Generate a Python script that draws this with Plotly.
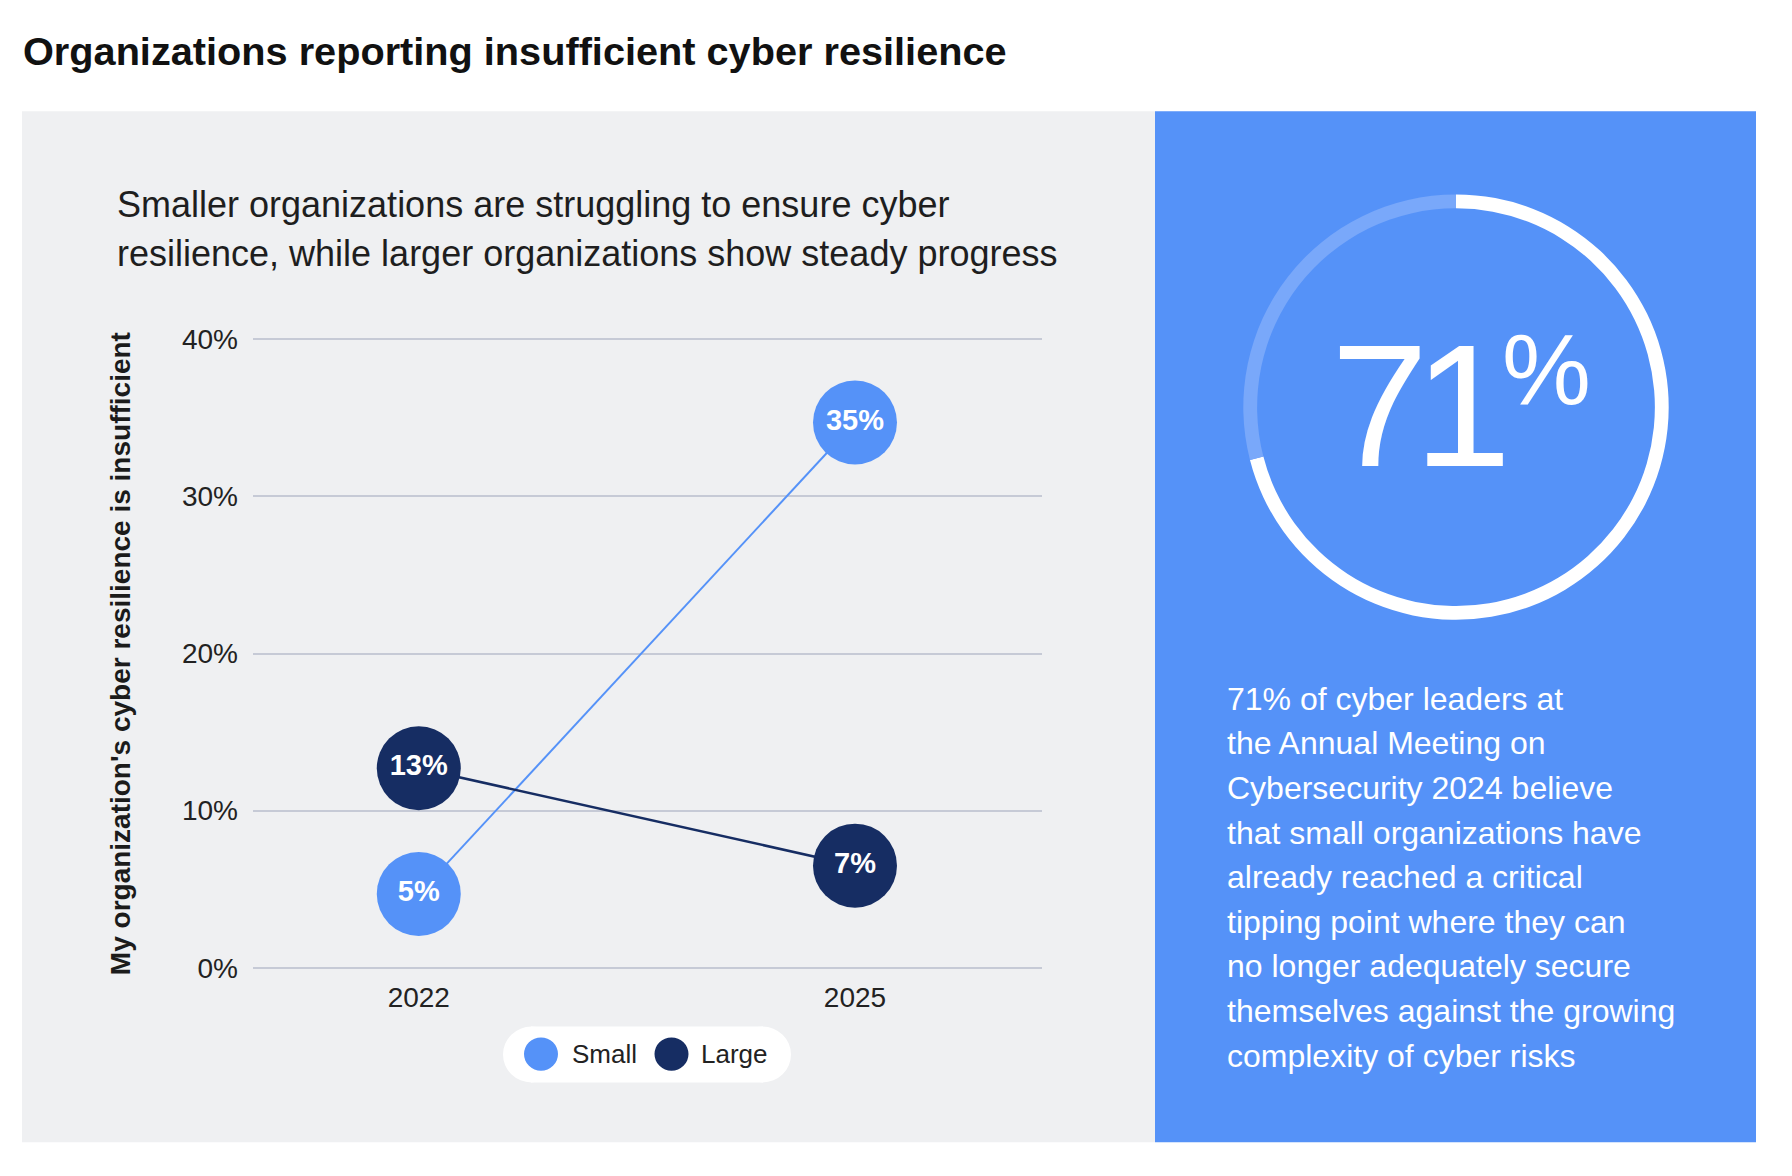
import plotly.graph_objects as go

# the page body keeps an 8px margin, so the figure is drawn 16px smaller
# and every position below is given in window pixels
W, H = 1792, 1176
OFF = 8
FW, FH = W - 2 * OFF, H - 2 * OFF
FONT = "Liberation Sans, Arial, Helvetica, sans-serif"

# data
years = ["2022", "2025"]
small = [4.7, 34.7]
large = [12.7, 6.5]
y_ticks = [0, 10, 20, 30, 40]
y_ticktext = ["0%", "10%", "20%", "30%", "40%"]
share_believe = [71, 29]

title = "Organizations reporting insufficient cyber resilience"
subtitle_lines = ["Smaller organizations are struggling to ensure cyber",
                  "resilience, while larger organizations show steady progress"]
y_title = "My organization's cyber resilience is insufficient"
note_lines = ["71% of cyber leaders at",
              "the Annual Meeting on",
              "Cybersecurity 2024 believe",
              "that small organizations have",
              "already reached a critical",
              "tipping point where they can",
              "no longer adequately secure",
              "themselves against the growing",
              "complexity of cyber risks"]

SMALL_C = "#5592F8"
LARGE_C = "#162D63"
PANEL_BLUE = "#5592F8"
GREY = "#EFF0F2"


def fx(p):
    return (p - OFF) / FW


def fy(p):
    return 1 - (p - OFF) / FH


fig = go.Figure()

fig.add_trace(go.Scatter(
    x=years, y=small, name="Small", mode="lines+markers+text",
    line=dict(color=SMALL_C, width=2),
    marker=dict(size=84, color=SMALL_C),
    texttemplate="<b>%{y:.0f}%</b>", textposition="middle center",
    textfont=dict(color="white", size=29, family=FONT),
    hoverinfo="skip", showlegend=False))
fig.add_trace(go.Scatter(
    x=years, y=large, name="Large", mode="lines+markers+text",
    line=dict(color=LARGE_C, width=2.5),
    marker=dict(size=84, color=LARGE_C),
    texttemplate="<b>%{y:.0f}%</b>", textposition="middle center",
    textfont=dict(color="white", size=29, family=FONT),
    hoverinfo="skip", showlegend=False))

# ring on the right
fig.add_trace(go.Pie(
    values=share_believe, sort=False, direction="clockwise", rotation=0,
    hole=0.935, textinfo="none", hoverinfo="skip", showlegend=False,
    marker=dict(colors=["#FFFFFF", "#79A8FA"], line=dict(width=0)),
    domain=dict(x=[fx(1239), fx(1673)], y=[fy(621), fy(187)])))


def circle(x0, x1, y0, y1, color, layer="above"):
    return dict(type="circle", xref="paper", yref="paper", x0=fx(x0), x1=fx(x1),
                y0=fy(y1), y1=fy(y0), fillcolor=color, line_width=0, layer=layer)


shapes = [
    dict(type="rect", xref="paper", yref="paper", x0=fx(22), x1=fx(1155),
         y0=fy(1154), y1=fy(102), fillcolor=GREY, line_width=0, layer="below"),
    dict(type="rect", xref="paper", yref="paper", x0=fx(1155), x1=fx(1756),
         y0=fy(1154), y1=fy(102), fillcolor=PANEL_BLUE, line_width=0, layer="below"),
    # legend pill
    dict(type="rect", xref="paper", yref="paper", x0=fx(531), x1=fx(763),
         y0=fy(1093), y1=fy(1036), fillcolor="white", line_width=0, layer="below"),
    circle(503, 560, 1036, 1093, "white", "below"),
    circle(734, 791, 1036, 1093, "white", "below"),
    circle(524, 558, 1047, 1081, SMALL_C),
    circle(654.5, 688.5, 1047, 1081, LARGE_C),
]

ann = []
ann.append(dict(text="<b>" + title + "</b>", x=fx(21), y=fy(41), xanchor="left",
                yanchor="middle", font=dict(size=39.7, color="#111111")))
for i, line in enumerate(subtitle_lines):
    ann.append(dict(text=line, x=fx(115), y=fy(197 + 50 * i), xanchor="left",
                    yanchor="middle", font=dict(size=36, color="#1E1E1E")))
ann.append(dict(text="<b>" + y_title + "</b>", x=fx(120), y=fy(656), textangle=-90,
                xanchor="center", yanchor="middle", font=dict(size=28, color="#1B1B1B")))
ann.append(dict(text="Small", x=fx(570), y=fy(1064), xanchor="left", yanchor="middle",
                font=dict(size=26, color="#222222")))
ann.append(dict(text="Large", x=fx(699), y=fy(1064), xanchor="left", yanchor="middle",
                font=dict(size=26, color="#222222")))
# big number in the ring, set glyph by glyph to keep it tight like the original
ann.append(dict(text="7", x=fx(1329), y=fy(402), xanchor="left", yanchor="middle",
                font=dict(size=175, color="white")))
ann.append(dict(text="1", x=fx(1412), y=fy(402), xanchor="left", yanchor="middle",
                font=dict(size=175, color="white")))
ann.append(dict(text="%", x=fx(1500), y=fy(365), xanchor="left", yanchor="middle",
                font=dict(size=100, color="white")))
for i, line in enumerate(note_lines):
    ann.append(dict(text=line, x=fx(1225), y=fy(701.5 + 45.5 * i), xanchor="left",
                    yanchor="middle", font=dict(size=32, color="white")))
for a in ann:
    a.update(xref="paper", yref="paper", showarrow=False)

# y axis: 0..40 sits between 976px and 334.7px; a small pad keeps the edge gridlines
pad = 0.25
per = (976 - 334.7) / 40

fig.update_layout(
    width=FW, height=FH, margin=dict(l=0, r=0, t=0, b=0, pad=0),
    paper_bgcolor="white", plot_bgcolor="rgba(0,0,0,0)",
    font=dict(family=FONT, color="#222222"),
    shapes=shapes, annotations=ann,
    xaxis=dict(domain=[fx(253), fx(1042)], type="category", range=[-0.38, 1.4287],
               showgrid=False, zeroline=False, showline=False, ticks="",
               tickfont=dict(size=28, color="#222222"), ticklabelstandoff=6,
               fixedrange=True),
    yaxis=dict(domain=[fy(976 + pad * per), fy(334.7 - pad * per)],
               range=[-pad, 40 + pad], tickmode="array", tickvals=y_ticks,
               ticktext=y_ticktext, showgrid=True, gridcolor="#C6CAD6", gridwidth=1.5,
               zeroline=False, showline=False, ticks="",
               tickfont=dict(size=28, color="#222222"), ticklabelstandoff=14,
               fixedrange=True),
)

fig.write_html("out.html")
